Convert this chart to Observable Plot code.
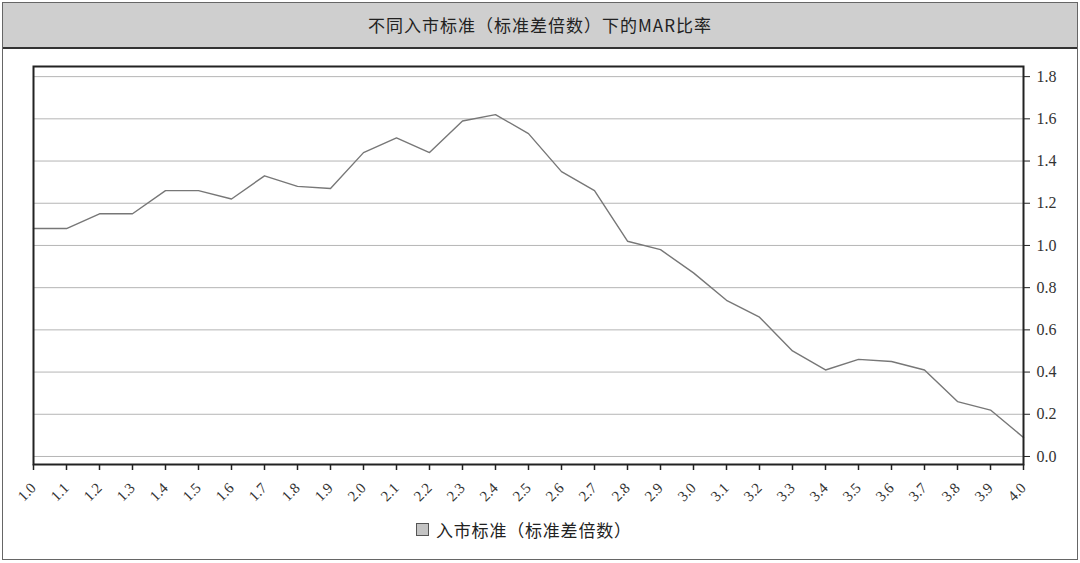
<!DOCTYPE html>
<html>
<head>
<meta charset="utf-8">
<script src="https://cdn.jsdelivr.net/npm/d3@7"></script>
<script src="https://cdn.jsdelivr.net/npm/@observablehq/plot@0.6"></script>
<style>
  html, body { margin: 0; padding: 0; background: #fff; }
  #frame { position: absolute; left: 2px; top: 2px; width: 1076px; height: 558px; box-sizing: border-box; border: 1px solid #666; background: #fff; }
  #title { height: 44px; line-height: 44px; background: #cfcfcf; border-bottom: 2px solid #333; text-align: center; font-family: "Noto Sans CJK SC", sans-serif; font-size: 17px; letter-spacing: 1px; color: #222; }
  #chart svg { display: block; }
  #chart svg text { font-family: "Liberation Serif", "DejaVu Serif", serif !important; }
  #legend { position: absolute; left: 413px; top: 514px; font-family: "Noto Sans CJK SC", sans-serif; font-size: 17px; letter-spacing: 0.8px; color: #222; display: flex; align-items: center; }
  #legend .sw { width: 11px; height: 11px; background: #c4c4c4; border: 1px solid #555; margin-right: 7px; }
</style>
</head>
<body>
<div id="frame">
  <div id="title"></div>
  <div id="chart"></div>
  <div id="legend"><span class="sw"></span><span id="legendText"></span></div>
</div>
<script>
const titleText = "不同入市标准（标准差倍数）下的MAR比率";
const seriesName = "入市标准（标准差倍数）";
const stdMultiple = [1.0,1.1,1.2,1.3,1.4,1.5,1.6,1.7,1.8,1.9,2.0,2.1,2.2,2.3,2.4,2.5,2.6,2.7,2.8,2.9,3.0,3.1,3.2,3.3,3.4,3.5,3.6,3.7,3.8,3.9,4.0];
const marRatio = [1.08,1.08,1.15,1.15,1.26,1.26,1.22,1.33,1.28,1.27,1.44,1.51,1.44,1.59,1.62,1.53,1.35,1.26,1.02,0.98,0.87,0.74,0.66,0.50,0.41,0.46,0.45,0.41,0.26,0.22,0.09];
const xTicks = [1.0,1.1,1.2,1.3,1.4,1.5,1.6,1.7,1.8,1.9,2.0,2.1,2.2,2.3,2.4,2.5,2.6,2.7,2.8,2.9,3.0,3.1,3.2,3.3,3.4,3.5,3.6,3.7,3.8,3.9,4.0];
const yTicks = [0,0.2,0.4,0.6,0.8,1.0,1.2,1.4,1.6,1.8];

document.getElementById("title").textContent = titleText;
document.getElementById("legendText").textContent = seriesName;

const data = stdMultiple.map((x, i) => ({x, y: marRatio[i]}));
const fmt = d3.format(".1f");
const serif = "Liberation Serif";

const chart = Plot.plot({
  width: 1074,
  height: 460,
  marginTop: 17,
  marginBottom: 45,
  marginLeft: 30,
  marginRight: 54,
  style: {fontFamily: serif, fontSize: "15px", color: "#333", background: "#fff"},
  x: {domain: [1, 4]},
  y: {domain: [-0.038, 1.848]},
  marks: [
    Plot.gridY(yTicks, {stroke: "#b5b5b5", strokeOpacity: 1, strokeWidth: 1}),
    Plot.line(data, {x: "x", y: "y", stroke: "#777", strokeWidth: 1.4}),
    Plot.frame({stroke: "#222", strokeWidth: 2}),
    Plot.axisX(xTicks, {tickFormat: fmt, tickRotate: -45, tickSize: 6, tickPadding: 15, stroke: "#222", strokeWidth: 1.5, fill: "#333", fontFamily: serif, fontSize: 15, label: null}),
    Plot.axisY(yTicks, {anchor: "right", tickFormat: fmt, tickSize: 6, tickPadding: 7, stroke: "#222", fill: "#333", fontFamily: serif, fontSize: 16, label: null})
  ]
});
document.getElementById("chart").appendChild(chart);
</script>
</body>
</html>
